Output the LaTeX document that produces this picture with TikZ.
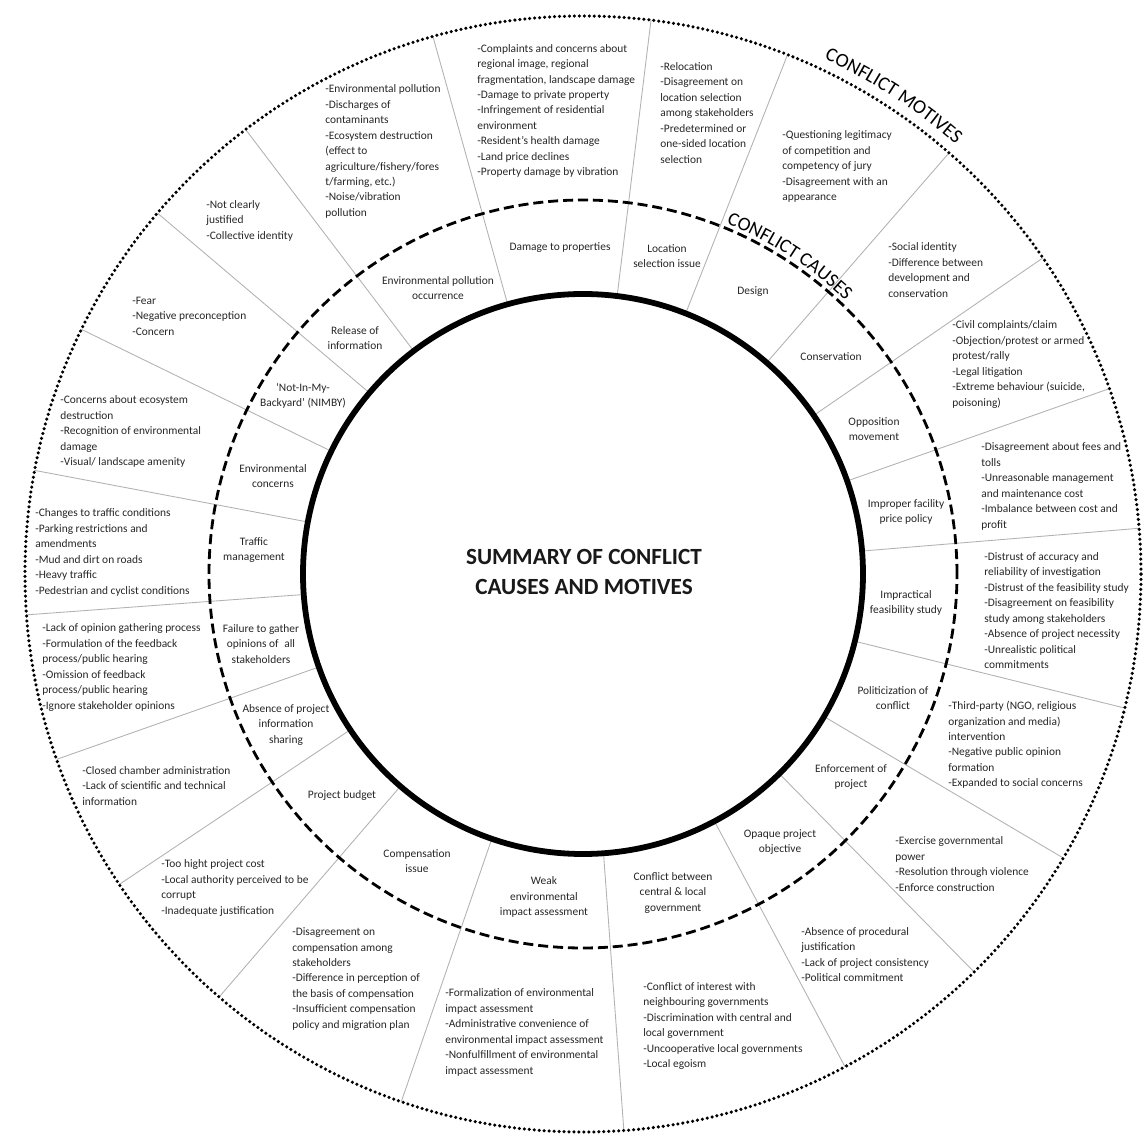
\documentclass[tikz,border=0pt]{standalone}
\usepackage{fontspec}
\setmainfont{Carlito}
\usetikzlibrary{decorations.text}

\tikzset{
  cause/.style={align=center, inner sep=0pt, font=\fontsize{6.5}{8.8}\selectfont, text=black!85},
  motive/.style={align=left, anchor=west, inner sep=0pt, font=\fontsize{6.5}{8.8}\selectfont, text=black!85},
  border/.style={gray!60, line width=0.5pt},
}

\begin{document}
\begin{tikzpicture}
    \useasboundingbox (-11.66,-11.24) rectangle (11.2,11.48);
    % Sector borders
    \foreach \a in {105.6, 83, 68.5, 49, 34.5, 19.4, 4.7, -13.9, -30.6, -45.5, -62,
                    -85.8, -109, -130.7, -146.2, -160.6, -175.8, 169.3, 154, 139.7, 127.2} {
      \draw[border] (\a:5.6) -- (\a:11.16);
    }
    % Rings
    \draw[line width=3.3pt] (0,0) circle (5.6);
    \draw[line width=1.6pt, dash pattern=on 5.7pt off 2.8pt] (0,0) circle (7.48);
    \draw[line width=2pt, line cap=round, dash pattern=on 0pt off 2.83pt] (0,0) circle (11.16);
    % Ring titles
    \path[decorate, decoration={text along path, text align=center,
      text={|\fontsize{11.2}{13}\selectfont|CONFLICT MOTIVES}}]
      (72:11.38) arc[start angle=72, end angle=42, radius=11.38];
    \path[decorate, decoration={text along path, text align=center,
      text={|\fontsize{11}{13}\selectfont|CONFLICT CAUSES}}]
      (77:7.58) arc[start angle=77, end angle=37, radius=7.58];
    % Centre
    \node[align=center, font=\fontsize{13.2}{17.6}\selectfont\bfseries, text=black!90] (title) at (0.02,0.04)
      {SUMMARY OF CONFLICT\\CAUSES AND MOTIVES};
    % Conflict causes
    \node[cause] (damage) at (-0.46,6.52) {Damage to properties};
    \node[cause] (location) at (1.68,6.36) {Location\\selection issue};
    \node[cause] (design) at (3.40,5.64) {Design};
    \node[cause] (conserv) at (4.96,4.34) {Conservation};
    \node[cause] (opposition) at (5.82,2.90) {Opposition\\movement};
    \node[cause] (price) at (6.46,1.24) {Improper facility\\price policy};
    \node[cause] (feasib) at (6.46,-0.58) {Impractical\\feasibility study};
    \node[cause] (politic) at (6.20,-2.48) {Politicization of\\conflict};
    \node[cause] (enforce) at (5.36,-4.06) {Enforcement of\\project};
    \node[cause] (opaque) at (3.94,-5.36) {Opaque project\\objective};
    \node[cause] (govern) at (1.80,-6.38) {Conflict between\\central \& local\\government};
    \node[cause] (eia) at (-0.78,-6.46) {Weak\\environmental\\impact assessment};
    \node[cause] (compens) at (-3.32,-5.74) {Compensation\\issue};
    \node[cause] (budget) at (-4.82,-4.44) {Project budget};
    \node[cause] (sharing) at (-5.94,-3.02) {Absence of project\\information\\sharing};
    \node[cause] (gather) at (-6.44,-1.40) {Failure to gather\\opinions of\enspace all\\stakeholders};
    \node[cause] (traffic) at (-6.58,0.48) {Traffic\\management};
    \node[cause] (envconc) at (-6.20,1.96) {Environmental\\concerns};
    \node[cause] (nimby) at (-5.60,3.56) {`Not-In-My-\\Backyard' (NIMBY)};
    \node[cause] (release) at (-4.56,4.72) {Release of\\information};
    \node[cause] (pollution) at (-2.90,5.72) {Environmental pollution\\occurrence};
    % Conflict motives
    \node[motive] (damageM) at (-2.12,9.26) {-Complaints and concerns about\\regional image, regional\\fragmentation, landscape damage\\-Damage to private property\\-Infringement of residential\\environment\\-Resident's health damage\\-Land price declines\\-Property damage by vibration};
    \node[motive] (locationM) at (1.54,9.22) {-Relocation\\-Disagreement on\\location selection\\among stakeholders\\-Predetermined or\\one-sided location\\selection};
    \node[motive] (designM) at (3.98,8.15) {-Questioning legitimacy\\of competition and\\competency of jury\\-Disagreement with an\\appearance};
    \node[motive] (conservM) at (6.10,6.08) {-Social identity\\-Difference between\\development and\\conservation};
    \node[motive] (oppositionM) at (7.38,4.19) {-Civil complaints/claim\\-Objection/protest or armed\\protest/rally\\-Legal litigation\\-Extreme behaviour (suicide,\\poisoning)};
    \node[motive] (priceM) at (7.96,1.75) {-Disagreement about fees and\\tolls\\-Unreasonable management\\and maintenance cost\\-Imbalance between cost and\\profit};
    \node[motive] (feasibM) at (8.02,-0.73) {-Distrust of accuracy and\\reliability of investigation\\-Distrust of the feasibility study\\-Disagreement on feasibility\\study among stakeholders\\-Absence of project necessity\\-Unrealistic political\\commitments};
    \node[motive] (politicM) at (7.30,-3.42) {-Third-party (NGO, religious\\organization and media)\\intervention\\-Negative public opinion\\formation\\-Expanded to social concerns};
    \node[motive] (enforceM) at (6.24,-5.80) {-Exercise governmental\\power\\-Resolution through violence\\-Enforce construction};
    \node[motive] (opaqueM) at (4.36,-7.61) {-Absence of procedural\\justification\\-Lack of project consistency\\-Political commitment};
    \node[motive] (governM) at (1.20,-9.04) {-Conflict of interest with\\neighbouring governments\\-Discrimination with central and\\local government\\-Uncooperative local governments\\-Local egoism};
    \node[motive] (eiaM) at (-2.76,-9.17) {-Formalization of environmental\\impact assessment\\-Administrative convenience of\\environmental impact assessment\\-Nonfulfillment of environmental\\impact assessment};
    \node[motive] (compensM) at (-5.82,-8.10) {-Disagreement on\\compensation among\\stakeholders\\-Difference in perception of\\the basis of compensation\\-Insufficient compensation\\policy and migration plan};
    \node[motive] (budgetM) at (-8.44,-6.28) {-Too hight project cost\\-Local authority perceived to be\\corrupt\\-Inadequate justification};
    \node[motive] (sharingM) at (-10.02,-4.24) {-Closed chamber administration\\-Lack of scientific and technical\\information};
    \node[motive] (gatherM) at (-10.82,-1.87) {-Lack of opinion gathering process\\-Formulation of the feedback\\process/public hearing\\-Omission of feedback\\process/public hearing\\-Ignore stakeholder opinions};
    \node[motive] (trafficM) at (-10.96,0.43) {-Changes to traffic conditions\\-Parking restrictions and\\amendments\\-Mud and dirt on roads\\-Heavy traffic\\-Pedestrian and cyclist conditions};
    \node[motive] (envconcM) at (-10.46,2.85) {-Concerns about ecosystem\\destruction\\-Recognition of environmental\\damage\\-Visual/ landscape amenity};
    \node[motive] (nimbyM) at (-9.02,5.16) {-Fear\\-Negative preconception\\-Concern};
    \node[motive] (releaseM) at (-7.54,7.07) {-Not clearly\\justified\\-Collective identity};
    \node[motive] (pollutionM) at (-5.16,8.45) {-Environmental pollution\\-Discharges of\\contaminants\\-Ecosystem destruction\\(effect to\\agriculture/fishery/fores\\t/farming, etc.)\\-Noise/vibration\\pollution};
\end{tikzpicture}
\end{document}
